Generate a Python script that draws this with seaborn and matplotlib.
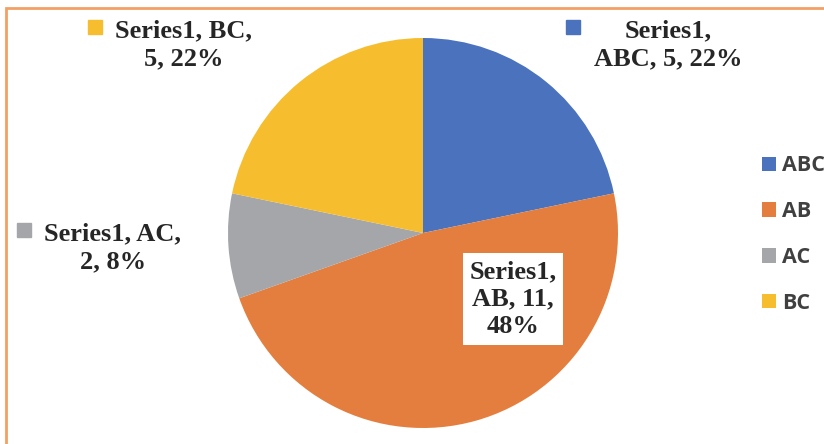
import matplotlib
matplotlib.use("Agg")
import matplotlib.pyplot as plt
import seaborn as sns
from matplotlib.patches import Patch, Rectangle

# data
categories = ["ABC", "AB", "AC", "BC"]
values = [5, 11, 2, 5]
percent_labels = ["22%", "48%", "8%", "22%"]
series_name = "Series1"
colors = ["#4A72BD", "#E47E3E", "#A5A6A9", "#F6BE2F"]

sns.set_theme(style="white")
plt.rcParams['font.family'] = ['Liberation Serif', 'DejaVu Sans']

W, H = 824, 444
fig = plt.figure(figsize=(W / 100, H / 100), dpi=100)
ax = fig.add_axes([0, 0, 1, 1])

palette = sns.color_palette(colors)
wedges, _ = ax.pie(values, colors=palette, startangle=90, counterclock=False,
                   center=(423, H - 233), radius=195,
                   wedgeprops=dict(linewidth=0))
ax.set_xlim(0, W)
ax.set_ylim(0, H)
ax.set_aspect('equal')
ax.axis('off')

# data labels (Excel-style, with colour key squares)
txt_kw = dict(fontsize=19, fontweight='bold', color='#262626',
              ha='center', va='center', linespacing=1.25)
label_text = {
    "ABC": f"{series_name},\n{categories[0]}, {values[0]}, {percent_labels[0]}",
    "AB": f"{series_name},\n{categories[1]}, {values[1]},\n{percent_labels[1]}",
    "AC": f"{series_name}, {categories[2]},\n{values[2]}, {percent_labels[2]}",
    "BC": f"{series_name}, {categories[3]},\n{values[3]}, {percent_labels[3]}",
}
label_pos = {"ABC": (668, 45), "AB": (513, 299), "AC": (113, 248), "BC": (184, 45)}
key_pos = {"ABC": (573.5, 26.5), "AC": (24, 230.5), "BC": (95, 26.5)}

for cat, col in zip(categories, palette):
    x, y = label_pos[cat]
    if cat == "AB":
        ax.text(x, H - y, label_text[cat], **txt_kw,
                bbox=dict(boxstyle='square,pad=0.25', fc='white', ec='none'))
    else:
        ax.text(x, H - y, label_text[cat], **txt_kw)
        kx, ky = key_pos[cat]
        ax.plot(kx, H - ky, marker='s', markersize=10, color=col, linestyle='none')

# legend on the right
handles = [Patch(facecolor=c, edgecolor='none') for c in palette]
leg = ax.legend(handles, categories, loc='center left',
                bbox_to_anchor=(762 / W, (H - 234.5) / H),
                frameon=False, borderpad=0, borderaxespad=0,
                handlelength=0.65, handleheight=0.65, handletextpad=0.3,
                labelspacing=1.15,
                prop=dict(family=['Open Sans', 'DejaVu Sans'], weight='bold', size=15.5))
for t in leg.get_texts():
    t.set_color('#404040')

# orange chart border (partially cropped)
fig.patches.append(Rectangle((6 / W, -0.1), 1.2, (H - 8) / H + 0.1,
                             transform=fig.transFigure, fill=False,
                             edgecolor='#F2A065', linewidth=2))

fig.savefig("out.png", dpi=100)
